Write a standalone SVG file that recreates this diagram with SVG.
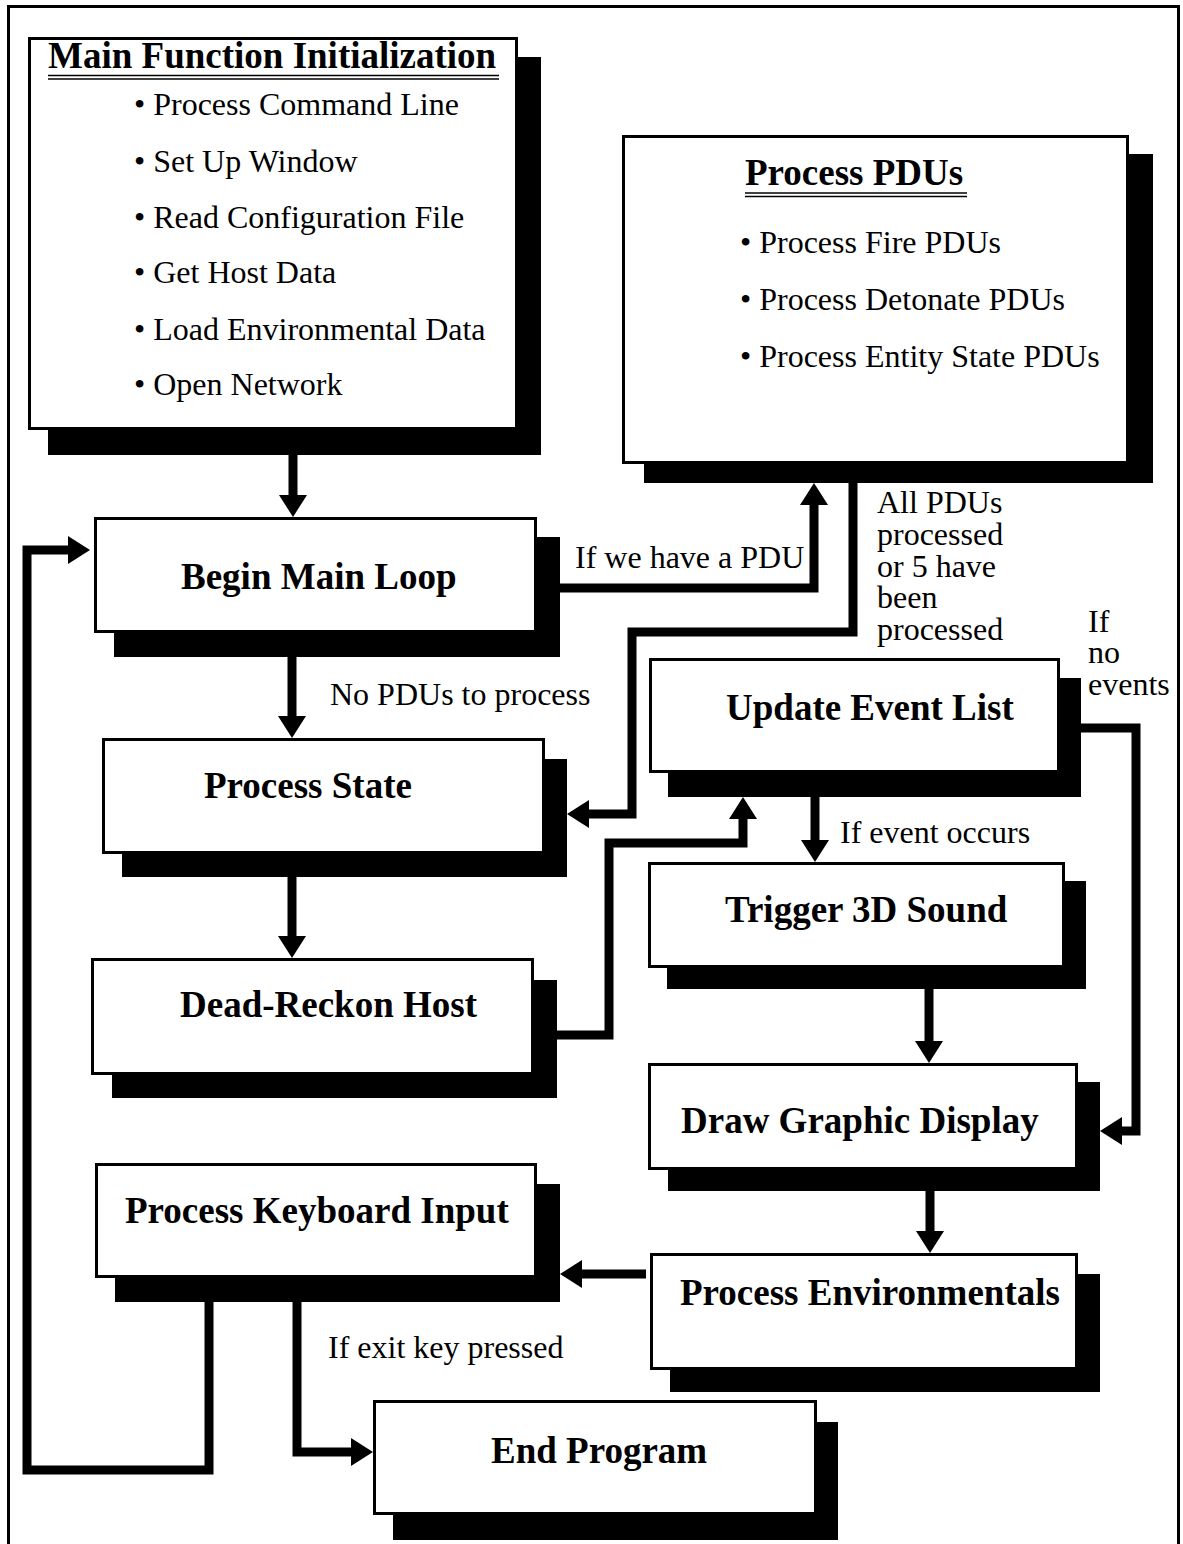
<svg xmlns="http://www.w3.org/2000/svg" width="1183" height="1544" viewBox="0 0 1183 1544">
<defs>
<style>
.box{fill:#fff;stroke:#000;stroke-width:3}
.sh{fill:#000}
.title{font-family:"Liberation Serif","Times New Roman",serif;font-weight:bold;font-size:37px;fill:#000}
.txt{font-family:"Liberation Serif","Times New Roman",serif;font-size:32px;fill:#000}
.conn{fill:none;stroke:#000;stroke-width:9;stroke-linejoin:miter;stroke-linecap:butt}
.ul{stroke:#000;stroke-width:1.6}
</style>
<marker id="ah" markerUnits="userSpaceOnUse" markerWidth="24" markerHeight="30" refX="0" refY="15" orient="auto">
<path d="M0,1 L22,15 L0,29 Z" fill="#000"/>
</marker>
</defs>
<rect width="1183" height="1544" fill="#fff"/>
<path d="M8.5,1600 V6.5 H1178.5 V1600" fill="none" stroke="#000" stroke-width="3"/>

<g id="connectors">
<path class="conn" marker-end="url(#ah)" d="M293,455 V495"/>
<path class="conn" marker-end="url(#ah)" d="M209,1302 V1470 H27 V550 H68"/>
<path class="conn" marker-end="url(#ah)" d="M560,588 H814 V505"/>
<path class="conn" marker-end="url(#ah)" d="M853,483 V632 H632 V814 H589"/>
<path class="conn" marker-end="url(#ah)" d="M292,657 V716"/>
<path class="conn" marker-end="url(#ah)" d="M292,877 V936"/>
<path class="conn" marker-end="url(#ah)" d="M557,1035 H609 V843 H743 V819"/>
<path class="conn" marker-end="url(#ah)" d="M815,797 V840"/>
<path class="conn" marker-end="url(#ah)" d="M1081,728 H1136 V1131 H1122"/>
<path class="conn" marker-end="url(#ah)" d="M929,989 V1041"/>
<path class="conn" marker-end="url(#ah)" d="M930,1191 V1231"/>
<path class="conn" marker-end="url(#ah)" d="M646,1274 H582"/>
<path class="conn" marker-end="url(#ah)" d="M297,1302 V1452 H351"/>
<text class="txt" x="575" y="568">If we have a PDU</text>
<text class="txt"><tspan x="877" y="513">All PDUs</tspan><tspan x="877" y="545">processed</tspan><tspan x="877" y="577">or 5 have</tspan><tspan x="877" y="608">been</tspan><tspan x="877" y="640">processed</tspan></text>
<text class="txt" x="330" y="705">No PDUs to process</text>
<text class="txt"><tspan x="1088" y="632">If</tspan><tspan x="1088" y="663">no</tspan><tspan x="1088" y="695">events</tspan></text>
<text class="txt" x="840" y="843">If event occurs</text>
<text class="txt" x="328" y="1358">If exit key pressed</text>
</g>

<g id="main-init">
<rect class="sh" x="48" y="57" width="493" height="398"/>
<rect class="box" x="29.5" y="38.5" width="487" height="390"/>
<text class="title" x="48" y="68">Main Function Initialization</text>
<line class="ul" x1="48" y1="75.5" x2="499" y2="75.5"/>
<line class="ul" x1="48" y1="79" x2="499" y2="79"/>
<text class="txt" x="134" y="115">• Process Command Line</text>
<text class="txt" x="134" y="172">• Set Up Window</text>
<text class="txt" x="134" y="228">• Read Configuration File</text>
<text class="txt" x="134" y="283">• Get Host Data</text>
<text class="txt" x="134" y="340">• Load Environmental Data</text>
<text class="txt" x="134" y="395">• Open Network</text>
</g>

<g id="process-pdus">
<rect class="sh" x="644" y="154" width="509" height="329"/>
<rect class="box" x="623.5" y="136.5" width="504" height="326"/>
<text class="title" x="745" y="185">Process PDUs</text>
<line class="ul" x1="745" y1="193" x2="967" y2="193"/>
<line class="ul" x1="745" y1="196.5" x2="967" y2="196.5"/>
<text class="txt" x="740" y="253">• Process Fire PDUs</text>
<text class="txt" x="740" y="310">• Process Detonate PDUs</text>
<text class="txt" x="740" y="367">• Process Entity State PDUs</text>
</g>

<g id="begin-main-loop">
<rect class="sh" x="114" y="537" width="446" height="120"/>
<rect class="box" x="95.5" y="518.5" width="440" height="113"/>
<text class="title" x="181" y="589">Begin Main Loop</text>
</g>

<g id="process-state">
<rect class="sh" x="122" y="759" width="445" height="118"/>
<rect class="box" x="103.5" y="739.5" width="440" height="113"/>
<text class="title" x="204" y="798">Process State</text>
</g>

<g id="dead-reckon">
<rect class="sh" x="112" y="980" width="445" height="118"/>
<rect class="box" x="92.5" y="959.5" width="440" height="114"/>
<text class="title" x="180" y="1017">Dead-Reckon Host</text>
</g>

<g id="update-event-list">
<rect class="sh" x="668" y="678" width="413" height="119"/>
<rect class="box" x="650.5" y="659.5" width="408" height="112"/>
<text class="title" x="726" y="720">Update Event List</text>
</g>

<g id="trigger-sound">
<rect class="sh" x="667" y="881" width="419" height="108"/>
<rect class="box" x="649.5" y="863.5" width="414" height="103"/>
<text class="title" x="725" y="922">Trigger 3D Sound</text>
</g>

<g id="draw-graphic">
<rect class="sh" x="668" y="1082" width="432" height="109"/>
<rect class="box" x="649.5" y="1064.5" width="427" height="104"/>
<text class="title" x="681" y="1133">Draw Graphic Display</text>
</g>

<g id="process-env">
<rect class="sh" x="670" y="1274" width="430" height="118"/>
<rect class="box" x="651.5" y="1254.5" width="425" height="114"/>
<text class="title" x="680" y="1305">Process Environmentals</text>
</g>

<g id="process-keyboard">
<rect class="sh" x="115" y="1184" width="445" height="118"/>
<rect class="box" x="96.5" y="1164.5" width="439" height="112"/>
<text class="title" x="125" y="1223">Process Keyboard Input</text>
</g>

<g id="end-program">
<rect class="sh" x="393" y="1422" width="445" height="118"/>
<rect class="box" x="374.5" y="1401.5" width="441" height="112"/>
<text class="title" x="491" y="1463">End Program</text>
</g>
</svg>
